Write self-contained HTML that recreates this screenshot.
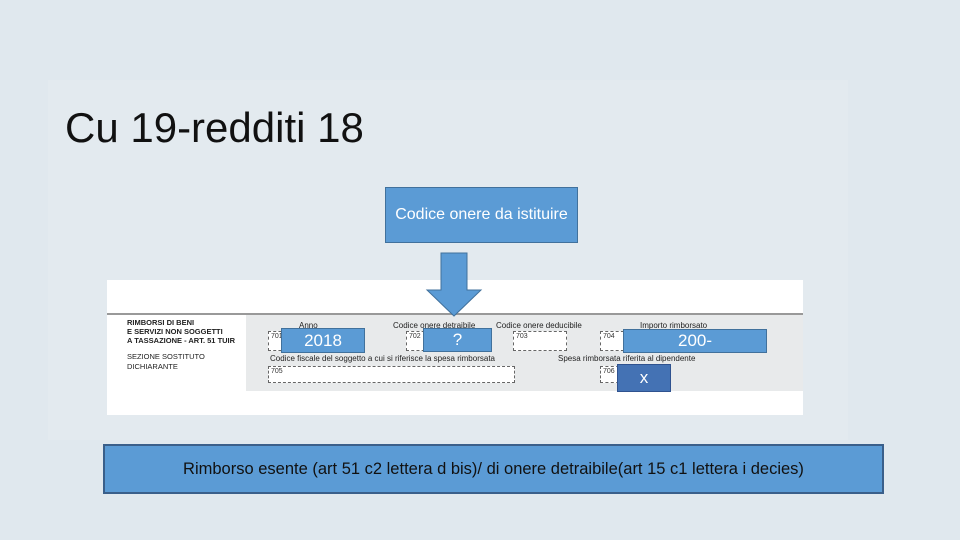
<!DOCTYPE html>
<html><head><meta charset="utf-8"><style>
body{margin:0;width:960px;height:540px;overflow:hidden;background:#e0e8ee;position:relative;font-family:"Liberation Sans",sans-serif}
.a{position:absolute;box-sizing:border-box}
.blue{background:#5b9bd5;border:1px solid #41719c;color:#fff;display:flex;align-items:center;justify-content:center}
.d{position:absolute;box-sizing:border-box;border:1px dashed #666;background:#fff;font-size:7px;color:#333;padding:1px 2px}
.t{position:absolute;font-size:8px;color:#222;white-space:nowrap}
</style></head><body>
<div class="a" style="left:48px;top:80px;width:800px;height:360px;background:#e3eaef"></div>
<div class="a" style="left:65px;top:104px;font-size:42px;color:#111;white-space:nowrap">Cu 19-redditi 18</div>
<div class="a blue" style="left:385px;top:187px;width:193px;height:56px;font-size:16px">Codice onere da istituire</div>
<div class="a" style="left:107px;top:280px;width:696px;height:135px;background:#fff"></div>
<div class="a" style="left:107px;top:313px;width:696px;height:2px;background:#999"></div>
<div class="a" style="left:246px;top:315px;width:557px;height:76px;background:#e8eaeb"></div>
<div class="t" style="left:127px;top:318px;font-weight:bold;font-size:7.5px;line-height:9px">RIMBORSI DI BENI<br>E SERVIZI NON SOGGETTI<br>A TASSAZIONE - ART. 51 TUIR</div>
<div class="t" style="left:127px;top:352px;font-size:7.5px;line-height:10px">SEZIONE SOSTITUTO<br>DICHIARANTE</div>
<div class="t" style="left:299px;top:321px">Anno</div>
<div class="t" style="left:393px;top:321px">Codice onere detraibile</div>
<div class="t" style="left:496px;top:321px">Codice onere deducibile</div>
<div class="t" style="left:640px;top:321px">Importo rimborsato</div>
<div class="t" style="left:270px;top:354px">Codice fiscale del soggetto a cui si riferisce la spesa rimborsata</div>
<div class="t" style="left:558px;top:354px">Spesa rimborsata riferita al dipendente</div>
<div class="d" style="left:268px;top:331px;width:50px;height:20px">701</div>
<div class="d" style="left:406px;top:331px;width:50px;height:20px">702</div>
<div class="d" style="left:513px;top:331px;width:54px;height:20px">703</div>
<div class="d" style="left:600px;top:331px;width:50px;height:20px">704</div>
<div class="d" style="left:268px;top:366px;width:247px;height:17px">705</div>
<div class="d" style="left:600px;top:366px;width:30px;height:17px">706</div>
<div class="a blue" style="left:281px;top:328px;width:84px;height:25px;font-size:17px">2018</div>
<div class="a blue" style="left:423px;top:328px;width:69px;height:24px;font-size:17px">?</div>
<div class="a blue" style="left:623px;top:329px;width:144px;height:24px;font-size:17px">200-</div>
<div class="a blue" style="left:617px;top:364px;width:54px;height:28px;font-size:17px;background:#4472b4;border-color:#2f528f">x</div>
<svg class="a" style="left:0;top:0" width="960" height="540"><polygon points="441,253 467,253 467,290 481,290 454,316 427,290 441,290" fill="#5b9bd5" stroke="#41719c"/></svg>
<div class="a blue" style="left:103px;top:444px;width:781px;height:50px;font-size:16.5px;color:#111;border:2px solid #3a5f8a">Rimborso esente (art 51 c2 lettera d bis)/ di onere detraibile(art 15 c1 lettera i decies)</div>
</body></html>
